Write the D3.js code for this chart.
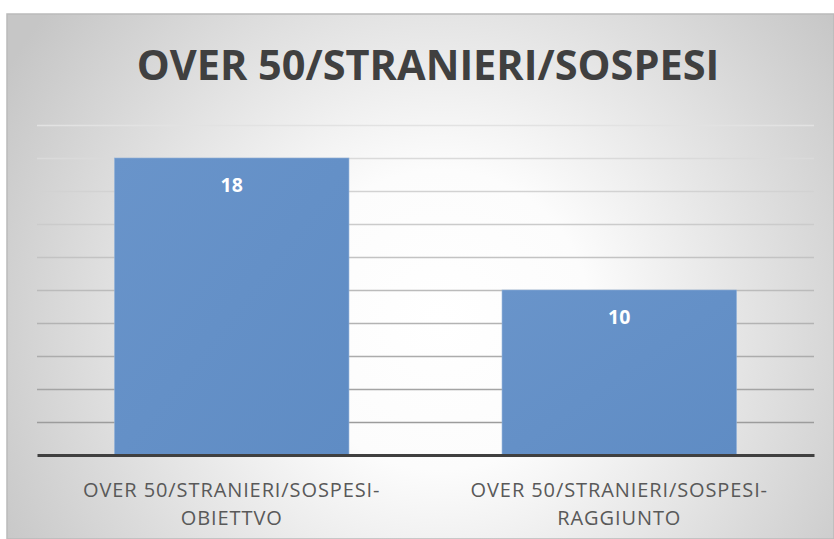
<!DOCTYPE html>
<html>
<head>
<meta charset="utf-8">
<script src="https://cdn.jsdelivr.net/npm/d3@7"></script>
<style>
  html, body { margin: 0; padding: 0; background: #fff; }
  svg { display: block; font-family: "Open Sans", "Noto Sans", sans-serif; }
</style>
</head>
<body>
<div id="chart"></div>
<script>
// chart data
const title = "OVER 50/STRANIERI/SOSPESI";
const categories = ["OVER 50/STRANIERI/SOSPESI-OBIETTVO", "OVER 50/STRANIERI/SOSPESI-RAGGIUNTO"];
const categoryLines = [["OVER 50/STRANIERI/SOSPESI-", "OBIETTVO"], ["OVER 50/STRANIERI/SOSPESI-", "RAGGIUNTO"]];
const values = [18, 10];
const yTicks = [0, 2, 4, 6, 8, 10, 12, 14, 16, 18, 20];

const width = 834, height = 539;
const frame = { left: 7, top: 14, right: 834, bottom: 539 };
const plot = { left: 37, right: 814, top: 125, bottom: 455 };

const svg = d3.select("#chart").append("svg")
    .attr("width", width)
    .attr("height", height);

// background gradient (light in the middle, grey at the edges)
const defs = svg.append("defs");
const grad = defs.append("radialGradient")
    .attr("id", "bg")
    .attr("gradientUnits", "userSpaceOnUse")
    .attr("cx", 440).attr("cy", 320).attr("r", 500);
grad.append("stop").attr("offset", "0%").attr("stop-color", "#ffffff");
grad.append("stop").attr("offset", "30%").attr("stop-color", "#fcfcfc");
grad.append("stop").attr("offset", "100%").attr("stop-color", "#c6c6c6");

const barGrad = defs.append("linearGradient")
    .attr("id", "barfill")
    .attr("x1", "0").attr("y1", "0").attr("x2", "1").attr("y2", "1");
barGrad.append("stop").attr("offset", "0%").attr("stop-color", "#6994ca");
barGrad.append("stop").attr("offset", "100%").attr("stop-color", "#5f8cc4");

svg.append("rect")
    .attr("x", frame.left)
    .attr("y", frame.top)
    .attr("width", frame.right - frame.left)
    .attr("height", frame.bottom - frame.top)
    .attr("fill", "url(#bg)")
    .attr("stroke", "#bababa")
    .attr("stroke-width", 1.5);

// scales
const x = d3.scaleBand()
    .domain(categories)
    .range([plot.left, plot.right])
    .paddingInner(0.395)
    .paddingOuter(0.2);

const y = d3.scaleLinear()
    .domain([0, 20])
    .range([plot.bottom, plot.top]);

// gridlines get darker toward the axis
const gridColor = d3.scaleLinear()
    .domain([20, 2])
    .range(["#e2e2e2", "#9c9c9c"]);

const yAxis = d3.axisLeft(y)
    .tickValues(yTicks.filter(d => d > 0))
    .tickSize(-(plot.right - plot.left))
    .tickFormat("");

const grid = svg.append("g")
    .attr("transform", `translate(${plot.left},0)`)
    .call(yAxis);
grid.select(".domain").remove();
grid.selectAll(".tick line")
    .attr("stroke", d => gridColor(d))
    .attr("stroke-width", 1.5);

// bars
svg.append("g")
    .selectAll("rect")
    .data(values)
    .enter().append("rect")
    .attr("x", (d, i) => x(categories[i]))
    .attr("y", d => y(d))
    .attr("width", x.bandwidth())
    .attr("height", d => y(0) - y(d))
    .attr("fill", "url(#barfill)")
    .attr("stroke", "#8fb0d8")
    .attr("stroke-width", 0.6);

// value labels
svg.append("g")
    .selectAll("text")
    .data(values)
    .enter().append("text")
    .attr("x", (d, i) => x(categories[i]) + x.bandwidth() / 2)
    .attr("y", d => y(d) + 34)
    .attr("text-anchor", "middle")
    .attr("fill", "#ffffff")
    .attr("font-weight", "bold")
    .attr("font-size", 19.5)
    .text(d => d);

// x axis
const xAxis = d3.axisBottom(x).tickSize(0).tickFormat("");
const xAxisGroup = svg.append("g")
    .attr("transform", `translate(0,${plot.bottom})`)
    .call(xAxis);
xAxisGroup.select(".domain")
    .attr("stroke", "#404040")
    .attr("stroke-width", 3);

// category labels (two lines each)
const labels = svg.append("g")
    .selectAll("text")
    .data(categories)
    .enter().append("text")
    .attr("text-anchor", "middle")
    .attr("fill", "#595959")
    .attr("font-size", 20)
    .attr("letter-spacing", 0.9)
    .attr("transform", d => `translate(${x(d) + x.bandwidth() / 2},0)`);

labels.each(function(d, i) {
    const t = d3.select(this);
    categoryLines[i].forEach((line, j) => {
        t.append("tspan")
            .attr("x", 0)
            .attr("y", 497 + j * 28)
            .text(line);
    });
});

// title
svg.append("text")
    .attr("x", 428)
    .attr("y", 80)
    .attr("text-anchor", "middle")
    .attr("fill", "#404040")
    .attr("font-weight", "bold")
    .attr("font-size", 41.5)
    .text(title);
</script>
</body>
</html>
